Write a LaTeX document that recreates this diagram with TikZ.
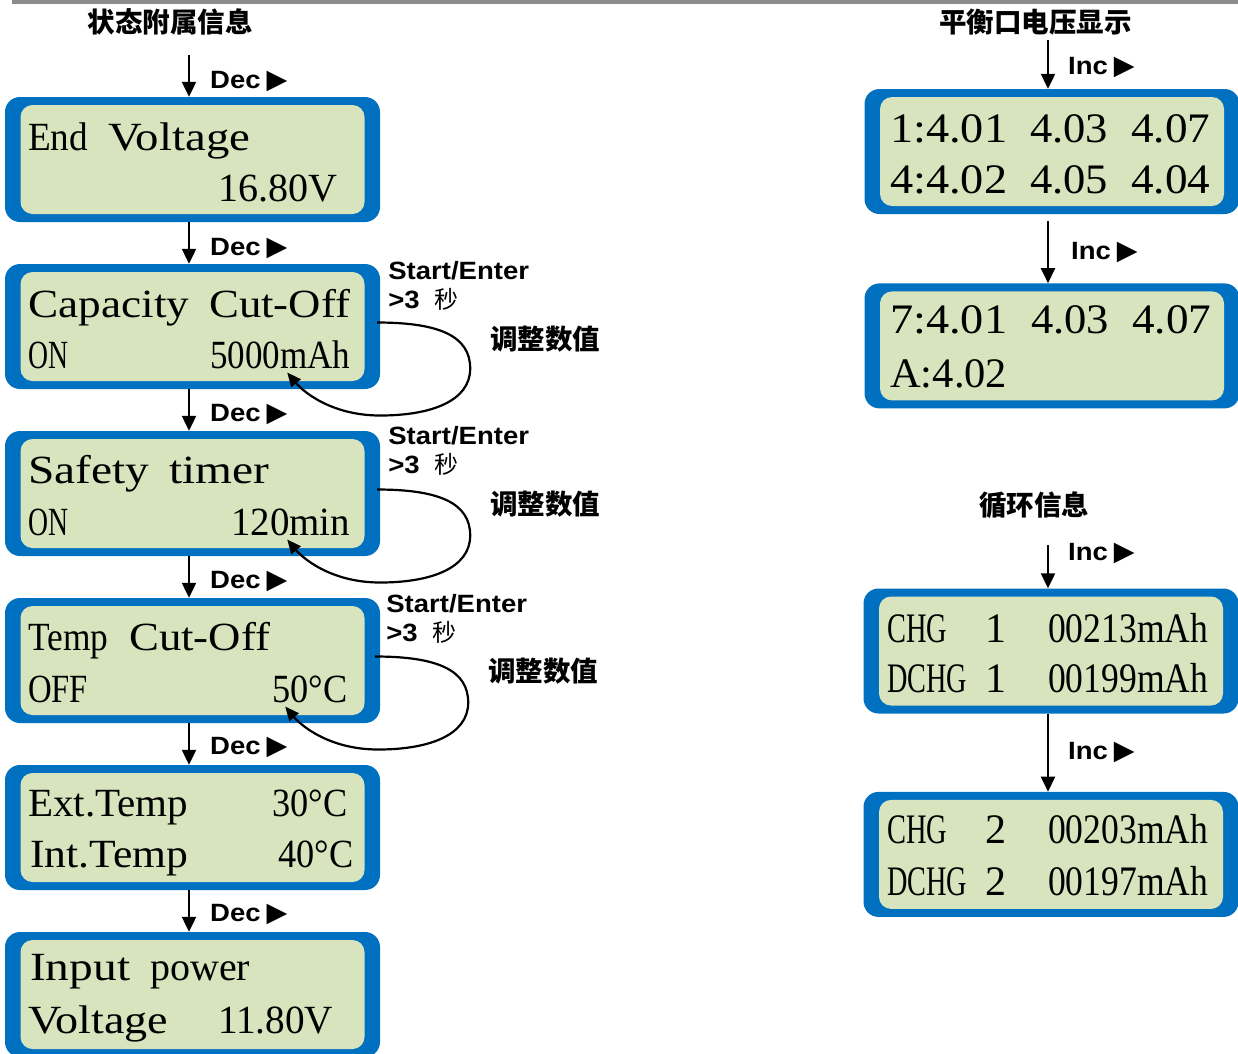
\documentclass[tikz,border=0pt]{standalone}
\usepackage{fontspec}
\usepackage{graphicx}
\setmainfont{Liberation Serif}
\newfontfamily\lcdfont{Liberation Serif}
\newfontfamily\keyfont[FakeStretch=1.1]{Liberation Sans}
\newfontfamily\cjkfont{Noto Sans CJK SC}
\newfontfamily\symbolfont{DejaVu Sans}
\usetikzlibrary{arrows.meta,positioning,calc}
\definecolor{lcdblue}{RGB}{0,112,192}
\definecolor{lcdgreen}{RGB}{215,228,189}
\definecolor{bargray}{RGB}{140,140,140}
\newcommand{\lcdfit}[2]{\resizebox{#1pt}{\height}{#2}}
\newcommand{\keytri}{\hspace{6pt}{\symbolfont\mdseries\fontsize{27}{27}\selectfont ▶}}

\begin{document}
\begin{tikzpicture}[
    x=1pt,y=-1pt,
    lcdframe/.style={rectangle,fill=lcdblue,rounded corners=15pt,
        minimum width=375pt,minimum height=125pt,inner sep=0pt},
    lcdpanel/.style={rectangle,fill=lcdgreen,rounded corners=12pt,
        minimum width=344pt,minimum height=109pt,inner sep=0pt},
    lcdtext/.style={font=\lcdfont\fontsize{40}{40}\selectfont,inner sep=0pt,anchor=base west},
    lcdwide/.style={lcdtext,font=\lcdfont\fontsize{42}{42}\selectfont},
    keylabel/.style={font=\keyfont\bfseries\fontsize{25}{25}\selectfont,inner sep=0pt,anchor=west},
    cjklabel/.style={font=\cjkfont\bfseries\fontsize{27.5}{27.5}\selectfont,inner sep=0pt},
    steparrow/.style={-{Triangle[length=15pt,width=14pt]},line width=2.2pt},
    looparrow/.style={-{Triangle[length=14pt,width=12pt]},line width=2.2pt}
]
\useasboundingbox (0,0) rectangle (1238,1053);
\clip (0,0) rectangle (1238,1053);
\fill[bargray] (12,0) rectangle (1238,4);
% left column: status screens
\node[lcdframe] (endvolt) at (192.5,159.5) {};
\node[lcdframe,below=41.6pt of endvolt] (capcut) {};
\node[lcdframe,below=41.6pt of capcut] (safetimer) {};
\node[lcdframe,below=41.6pt of safetimer] (tempcut) {};
\node[lcdframe,below=41.6pt of tempcut] (temps) {};
\node[lcdframe,below=41.6pt of temps] (inpower) {};
\node[lcdpanel] (endvolt-lcd) at (endvolt.center) {};
\node[lcdpanel] (capcut-lcd) at (capcut.center) {};
\node[lcdpanel] (safetimer-lcd) at (safetimer.center) {};
\node[lcdpanel] (tempcut-lcd) at (tempcut.center) {};
\node[lcdpanel] (temps-lcd) at (temps.center) {};
\node[lcdpanel] (inpower-lcd) at (inpower.center) {};
% right column: balance and cycle screens
\node[lcdframe] (balone) at (1052,151.5) {};
\node[lcdframe,below=69pt of balone] (baltwo) {};
\node[lcdframe] (cycone) at (1051,651) {};
\node[lcdframe,below=78pt of cycone] (cyctwo) {};
\node[lcdpanel] (balone-lcd) at (balone.center) {};
\node[lcdpanel] (baltwo-lcd) at (baltwo.center) {};
\node[lcdpanel] (cycone-lcd) at (cycone.center) {};
\node[lcdpanel] (cyctwo-lcd) at (cyctwo.center) {};

\node[lcdtext] (endvolt-a) at (28,150) {\lcdfit{60}{End}};
\node[lcdtext] (endvolt-b) at (108,150) {\lcdfit{142}{Voltage}};
\node[lcdtext] (endvolt-c) at (218,201) {\lcdfit{119}{16.80V}};
\node[lcdtext] (capcut-a) at (28,317) {\lcdfit{161}{Capacity}};
\node[lcdtext] (capcut-b) at (209,317) {\lcdfit{141}{Cut-Off}};
\node[lcdtext] (capcut-c) at (28,368) {\lcdfit{40}{ON}};
\node[lcdtext] (capcut-d) at (210,368) {\lcdfit{140}{5000mAh}};
\node[lcdtext] (safetimer-a) at (28,483) {\lcdfit{121}{Safety}};
\node[lcdtext] (safetimer-b) at (169,483) {\lcdfit{100}{timer}};
\node[lcdtext] (safetimer-c) at (28,535) {\lcdfit{40}{ON}};
\node[lcdtext] (safetimer-d) at (231,535) {\lcdfit{119}{120min}};
\node[lcdtext] (tempcut-a) at (28,650) {\lcdfit{80}{Temp}};
\node[lcdtext] (tempcut-b) at (129,650) {\lcdfit{141}{Cut-Off}};
\node[lcdtext] (tempcut-c) at (28,702) {\lcdfit{60}{OFF}};
\node[lcdtext] (tempcut-d) at (272,702) {\lcdfit{75}{50°C}};
\node[lcdtext] (temps-a) at (28,816) {\lcdfit{160}{Ext.Temp}};
\node[lcdtext] (temps-b) at (272,816) {\lcdfit{75}{30°C}};
\node[lcdtext] (temps-c) at (30,867) {\lcdfit{158}{Int.Temp}};
\node[lcdtext] (temps-d) at (278,867) {\lcdfit{75}{40°C}};
\node[lcdtext] (inpower-a) at (30,980) {\lcdfit{100}{Input}};
\node[lcdtext] (inpower-b) at (150,980) {\lcdfit{100}{power}};
\node[lcdtext] (inpower-c) at (28,1033) {\lcdfit{140}{Voltage}};
\node[lcdtext] (inpower-d) at (218,1033) {\lcdfit{115}{11.80V}};

\node[lcdwide] (balone-a) at (890,142) {\lcdfit{117}{1:4.01}};
\node[lcdwide] (balone-b) at (1030,142) {\lcdfit{78}{4.03}};
\node[lcdwide] (balone-c) at (1131,142) {\lcdfit{79}{4.07}};
\node[lcdwide] (balone-d) at (890,193) {\lcdfit{117}{4:4.02}};
\node[lcdwide] (balone-e) at (1030,193) {\lcdfit{78}{4.05}};
\node[lcdwide] (balone-f) at (1131,193) {\lcdfit{79}{4.04}};
\node[lcdwide] (baltwo-a) at (890,333) {\lcdfit{117}{7:4.01}};
\node[lcdwide] (baltwo-b) at (1031,333) {\lcdfit{78}{4.03}};
\node[lcdwide] (baltwo-c) at (1132,333) {\lcdfit{79}{4.07}};
\node[lcdwide] (baltwo-d) at (890,387) {\lcdfit{117}{A:4.02}};
\node[lcdwide] (cycone-a) at (887,642) {\lcdfit{60}{CHG}};
\node[lcdwide] (cycone-b) at (985,642) {1};
\node[lcdwide] (cycone-c) at (1048,642) {\lcdfit{160}{00213mAh}};
\node[lcdwide] (cycone-d) at (887,692) {\lcdfit{80}{DCHG}};
\node[lcdwide] (cycone-e) at (985,692) {1};
\node[lcdwide] (cycone-f) at (1048,692) {\lcdfit{160}{00199mAh}};
\node[lcdwide] (cyctwo-a) at (887,843) {\lcdfit{60}{CHG}};
\node[lcdwide] (cyctwo-b) at (985,843) {2};
\node[lcdwide] (cyctwo-c) at (1048,843) {\lcdfit{160}{00203mAh}};
\node[lcdwide] (cyctwo-d) at (887,895) {\lcdfit{80}{DCHG}};
\node[lcdwide] (cyctwo-e) at (985,895) {2};
\node[lcdwide] (cyctwo-f) at (1048,895) {\lcdfit{160}{00197mAh}};

% titles
\node[cjklabel] (statustitle) at (170,22) {状态附属信息};
\node[cjklabel] (baltitle) at (1035.5,22) {平衡口电压显示};
\node[cjklabel] (cyctitle) at (1034,505) {循环信息};

% Dec steps down the left column
\coordinate (leftrail) at (189,55);
\draw[steparrow] (leftrail) -- (leftrail |- endvolt.north);
\draw[steparrow] (endvolt.south -| leftrail) -- (capcut.north -| leftrail);
\draw[steparrow] (capcut.south -| leftrail) -- (safetimer.north -| leftrail);
\draw[steparrow] (safetimer.south -| leftrail) -- (tempcut.north -| leftrail);
\draw[steparrow] (tempcut.south -| leftrail) -- (temps.north -| leftrail);
\draw[steparrow] (temps.south -| leftrail) -- (inpower.north -| leftrail);
\node[keylabel] (dec-a) at (210,81) {Dec\keytri};
\node[keylabel] (dec-b) at (210,248) {Dec\keytri};
\node[keylabel] (dec-c) at (210,414) {Dec\keytri};
\node[keylabel] (dec-d) at (210,581) {Dec\keytri};
\node[keylabel] (dec-e) at (210,747) {Dec\keytri};
\node[keylabel] (dec-f) at (210,914) {Dec\keytri};

% Inc steps on the right
\coordinate (balrail) at (1048,40);
\coordinate (balgap) at (1048,221);
\coordinate (cycrail) at (1048,545);
\draw[steparrow] (balrail) -- (balrail |- balone.north);
\draw[steparrow] (balgap) -- (balgap |- baltwo.north);
\draw[steparrow] (cycrail) -- (cycrail |- cycone.north);
\draw[steparrow] (cycone.south -| cycrail) -- (cyctwo.north -| cycrail);
\node[keylabel] (inc-a) at (1068,67) {Inc\keytri};
\node[keylabel] (inc-b) at (1071,252) {Inc\keytri};
\node[keylabel] (inc-c) at (1068,553) {Inc\keytri};
\node[keylabel] (inc-d) at (1068,752) {Inc\keytri};

% adjust loops
\draw[looparrow,shift={(capcut.east)}] (-3,-4) .. controls (60,-4) and (90,10) .. (90,42)
    .. controls (90,75) and (50,89) .. (0,89) .. controls (-50,89) and (-78,64) .. (-93,46);
\draw[looparrow,shift={(safetimer.east)}] (-3,-4) .. controls (60,-4) and (90,10) .. (90,42)
    .. controls (90,75) and (50,89) .. (0,89) .. controls (-50,89) and (-78,64) .. (-93,46);
\draw[looparrow,shift={(tempcut.east)}] (-5,-4) .. controls (58,-4) and (88,10) .. (88,42)
    .. controls (88,75) and (48,89) .. (-2,89) .. controls (-52,89) and (-80,64) .. (-95,46);
\node[keylabel] (capcut-key) at ($(capcut.east)+(8,-56)$) {Start/Enter};
\node[keylabel] (capcut-hold) at ($(capcut.east)+(8,-27)$) {>3\hspace{15pt}{\cjkfont\mdseries\fontsize{24}{24}\selectfont 秒}};
\node[cjklabel] (capcut-adj) at ($(capcut.east)+(165,13)$) {调整数值};
\node[keylabel] (safetimer-key) at ($(safetimer.east)+(8,-58)$) {Start/Enter};
\node[keylabel] (safetimer-hold) at ($(safetimer.east)+(8,-29)$) {>3\hspace{15pt}{\cjkfont\mdseries\fontsize{24}{24}\selectfont 秒}};
\node[cjklabel] (safetimer-adj) at ($(safetimer.east)+(165,11)$) {调整数值};
\node[keylabel] (tempcut-key) at ($(tempcut.east)+(6,-57)$) {Start/Enter};
\node[keylabel] (tempcut-hold) at ($(tempcut.east)+(6,-28)$) {>3\hspace{15pt}{\cjkfont\mdseries\fontsize{24}{24}\selectfont 秒}};
\node[cjklabel] (tempcut-adj) at ($(tempcut.east)+(163,11)$) {调整数值};
\end{tikzpicture}
\end{document}
